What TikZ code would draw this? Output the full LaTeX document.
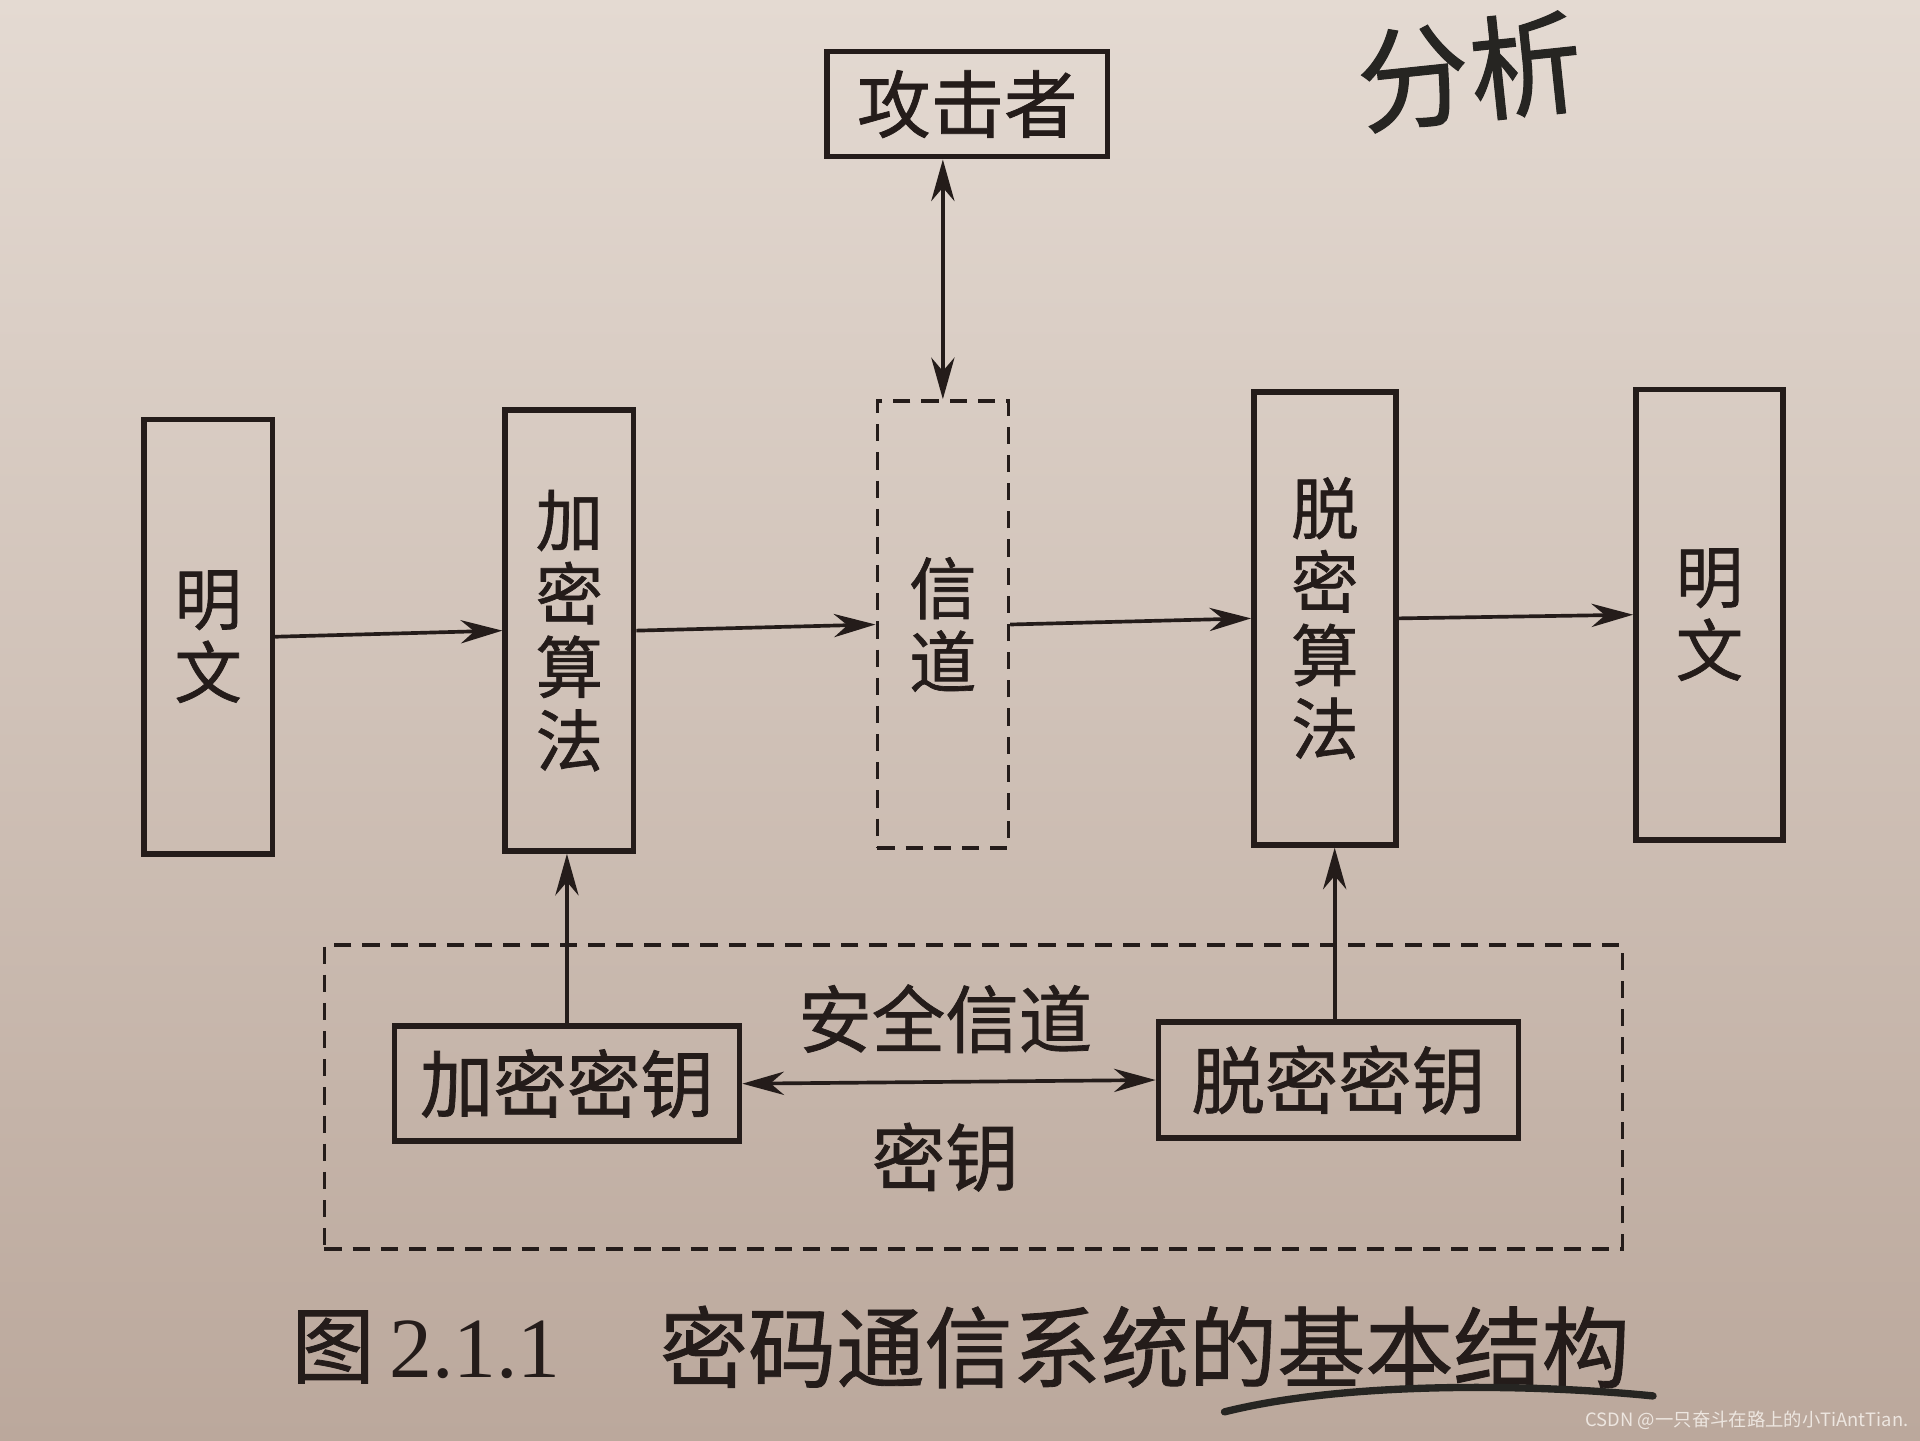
\documentclass[tikz,border=0pt]{standalone}
\usepackage{fontspec}
\newfontfamily\cjk[FakeBold=1]{Noto Sans CJK SC}
\newfontfamily\cjkplain{Noto Sans CJK SC}
\newfontfamily\latinserif{Liberation Serif}
\usetikzlibrary{arrows.meta}
\definecolor{ink}{HTML}{241C1A}
\definecolor{paperA}{HTML}{E4DAD2}
\definecolor{paperB}{HTML}{DDD1C7}
\definecolor{paperC}{HTML}{BBA89C}
\definecolor{pen}{HTML}{262522}
\definecolor{wm}{HTML}{EDE6E0}
\begin{document}
\begin{tikzpicture}[x=1pt,y=-1pt,
  solidbox/.style={draw=ink,line width=4.5pt,inner sep=0pt,align=center,text=ink},
  dashbox/.style={draw=ink,line width=3pt,dash pattern=on 14pt off 9pt,inner sep=0pt,align=center,text=ink},
  vtext/.style={font=\cjk\fontsize{55}{60}\selectfont},
  htext/.style={font=\cjk\fontsize{60}{66}\selectfont},
  arr/.style={draw=ink,line width=3pt,-{Stealth[length=34pt,width=19pt]}},
  dblarr/.style={draw=ink,line width=3pt,{Stealth[length=34pt,width=19pt]}-{Stealth[length=34pt,width=19pt]}}]
\shade[top color=paperA,middle color=paperB,bottom color=paperC] (0,0) rectangle (1568,1176);
\useasboundingbox (0,0) rectangle (1568,1176);

% nodes
\node[solidbox,htext,minimum width=229pt,minimum height=86pt] (atk) at (790,85) {攻击者};
\node[solidbox,vtext,minimum width=105pt,minimum height=355pt] (m1) at (170,520) {明\\文};
\node[solidbox,vtext,minimum width=105pt,minimum height=360pt] (enc) at (465,515) {加\\密\\算\\法};
\node[dashbox,vtext,minimum width=107pt,minimum height=365pt] (ch) at (770,510) {信\\道};
\node[solidbox,vtext,minimum width=116pt,minimum height=370pt] (dec) at (1082,505) {脱\\密\\算\\法};
\node[solidbox,vtext,minimum width=120pt,minimum height=368pt] (m2) at (1396,502) {明\\文};

\node[dashbox,minimum width=1060pt,minimum height=248pt] (kbox) at (795,896) {};
\node[solidbox,htext,minimum width=282pt,minimum height=94pt] (ek) at (463,885) {加密密钥};
\node[solidbox,htext,minimum width=294pt,minimum height=95pt] (dk) at (1093,882) {脱密密钥};
\node[htext,text=ink] (safe) at (772,832) {安全信道};
\node[htext,text=ink] (key) at (772,945) {密钥};

% connectors
\draw[arr] (m1.east) -- (enc.west);
\draw[arr] (enc.east) -- (ch.west);
\draw[arr] (ch.east) -- (dec.west);
\draw[arr] (dec.east) -- (m2.west);
\draw[dblarr] (atk.south -| ch.north) -- (ch.north);
\draw[arr] (ek.north) -- (ek.north |- enc.south);
\draw[arr] (dk.north -| 1090,0) -- (1090,0 |- dec.south);
\draw[dblarr] (ek.east) -- (dk.west);

% caption
\node[font=\cjk\fontsize{68}{72}\selectfont,text=ink] (fig) at (272,1100) {图};
\node[font=\latinserif\fontsize{70}{72}\selectfont,text=ink] (num) at (388,1102) {2.1.1};
\node[font=\cjk\fontsize{72}{76}\selectfont,text=ink] (cap) at (935,1100) {密码通信系统的基本结构};

% handwriting
\node[font=\cjk\fontsize{92}{96}\selectfont,text=pen,rotate=6] (hw) at (1200,58) {分析};
\draw[pen,line width=6pt,line cap=round] (1000,1153) .. controls (1100,1128) and (1250,1130) .. (1350,1140);

% watermark
\node[font=\cjkplain\fontsize{15}{17}\selectfont,text=wm,anchor=east] (wmk) at (1562,1160) {CSDN @一只奋斗在路上的小TiAntTian.};
\end{tikzpicture}
\end{document}
